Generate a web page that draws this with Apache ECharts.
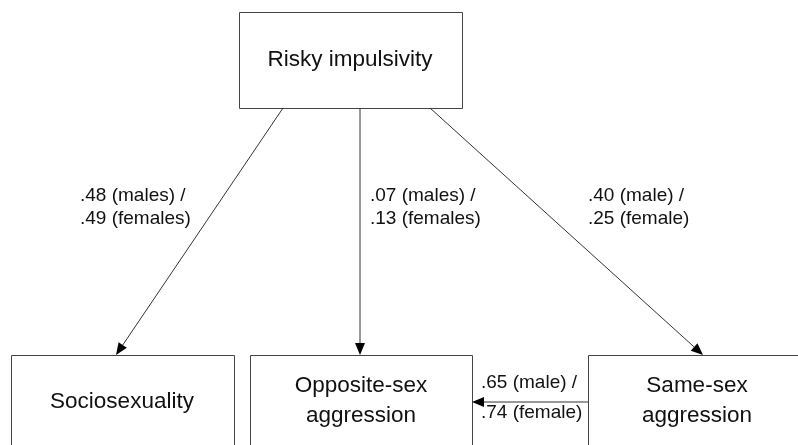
<!DOCTYPE html>
<html>
<head>
<meta charset="utf-8">
<style>
  html, body { margin: 0; padding: 0; background: #fff; }
  #chart { width: 798px; height: 445px; }
</style>
<script src="https://cdn.jsdelivr.net/npm/echarts@6/dist/echarts.min.js"></script>
</head>
<body>
<div id="chart"></div>
<script>
// path model: variables and standardised coefficients (male / female)
const nodeNames = ['Risky impulsivity', 'Sociosexuality', 'Opposite-sex\naggression', 'Same-sex\naggression']
const edgeFrom = [0, 0, 0, 3]
const edgeTo = [1, 2, 3, 2]
const maleCoef = ['.48', '.07', '.40', '.65']
const femaleCoef = ['.49', '.13', '.25', '.74']
const maleWord = ['males', 'males', 'male', 'male']
const femaleWord = ['females', 'females', 'female', 'female']

// layout in axis units (1 unit = 1px)
const boxLayout = [
  [239, 12, 462, 108],
  [11, 355, 234, 480],
  [250, 355, 472, 480],
  [588, 355, 840, 480]
]
const textCenter = [[350, 60], [122, 402], [361, 386], [697, 386]]
const edgeLayout = [
  [283, 108, 116, 355],
  [360, 108, 360, 355],
  [430, 108, 703, 355],
  [588, 402, 472, 402]
]
const labelAnchor = [[80, 196], [370, 196], [588, 196], [481, 383]]
const labelGap = [23, 23, 23, 30]

const FONT = 'Liberation Sans, Arial, sans-serif'

let chart = echarts.init(document.getElementById('chart'))

let boxData = nodeNames.map((n, i) => boxLayout[i].concat(textCenter[i]))
let edgeData = edgeFrom.map((f, i) => edgeLayout[i].concat(labelAnchor[i]))

let option = {
  animation: false,
  grid: { left: 0, right: 0, top: 0, bottom: 0 },
  xAxis: { type: 'value', min: 0, max: 798, show: false },
  yAxis: { type: 'value', min: 0, max: 445, inverse: true, show: false },
  series: [
    {
      type: 'custom',
      clip: false,
      data: boxData,
      renderItem: function (params, api) {
        let i = params.dataIndex
        let p0 = api.coord([api.value(0), api.value(1)])
        let p1 = api.coord([api.value(2), api.value(3)])
        let c = api.coord([api.value(4), api.value(5)])
        let lines = nodeNames[i].split('\n')
        let children = [{
          type: 'rect',
          shape: { x: p0[0] + 0.5, y: p0[1] + 0.5, width: p1[0] - p0[0], height: p1[1] - p0[1] },
          style: { fill: '#fff', stroke: '#444', lineWidth: 1 }
        }]
        lines.forEach((t, k) => {
          children.push({
            type: 'text',
            style: {
              text: t, x: c[0], y: c[1] + k * 30,
              font: '22.5px ' + FONT, fill: '#111',
              textAlign: 'center', textVerticalAlign: 'middle'
            }
          })
        })
        return { type: 'group', children: children }
      }
    },
    {
      type: 'custom',
      clip: false,
      data: edgeData,
      renderItem: function (params, api) {
        let i = params.dataIndex
        let a = api.coord([api.value(0), api.value(1)])
        let b = api.coord([api.value(2), api.value(3)])
        let lp = api.coord([api.value(4), api.value(5)])
        let dx = b[0] - a[0]
        let dy = b[1] - a[1]
        let len = Math.sqrt(dx * dx + dy * dy)
        let ux = dx / len
        let uy = dy / len
        let headLen = 12
        let headW = 5
        let base = [b[0] - ux * headLen, b[1] - uy * headLen]
        let children = [
          {
            type: 'line',
            shape: { x1: a[0], y1: a[1], x2: base[0], y2: base[1] },
            style: { stroke: '#333', lineWidth: 1 }
          },
          {
            type: 'polygon',
            shape: {
              points: [
                b,
                [base[0] - uy * headW, base[1] + ux * headW],
                [base[0] + uy * headW, base[1] - ux * headW]
              ]
            },
            style: { fill: '#000' }
          },
          {
            type: 'text',
            style: {
              text: maleCoef[i] + ' (' + maleWord[i] + ') /',
              x: lp[0], y: lp[1],
              font: '19px ' + FONT, fill: '#111',
              textAlign: 'left', textVerticalAlign: 'middle'
            }
          },
          {
            type: 'text',
            style: {
              text: femaleCoef[i] + ' (' + femaleWord[i] + ')',
              x: lp[0], y: lp[1] + labelGap[i],
              font: '19px ' + FONT, fill: '#111',
              textAlign: 'left', textVerticalAlign: 'middle'
            }
          }
        ]
        return { type: 'group', children: children }
      }
    }
  ]
}
chart.setOption(option)
</script>
</body>
</html>
